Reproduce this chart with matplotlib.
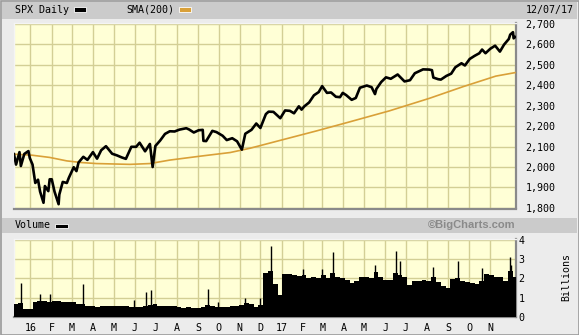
import matplotlib
matplotlib.use("Agg")
import matplotlib.pyplot as plt
import matplotlib.dates as mdates
from matplotlib.patches import Rectangle
import pandas as pd

# ---------------- data ----------------
price_dates = [
    "2015-12-08", "2015-12-11", "2015-12-16", "2015-12-18", "2015-12-23", "2015-12-29", "2015-12-31",
    "2016-01-04", "2016-01-08", "2016-01-12", "2016-01-15", "2016-01-20", "2016-01-22", "2016-01-27",
    "2016-01-29", "2016-02-01", "2016-02-05", "2016-02-11", "2016-02-12", "2016-02-17", "2016-02-23",
    "2016-02-26", "2016-03-04", "2016-03-08", "2016-03-11", "2016-03-18", "2016-03-24", "2016-04-01",
    "2016-04-07", "2016-04-13", "2016-04-20", "2016-04-29", "2016-05-06", "2016-05-13", "2016-05-19",
    "2016-05-27", "2016-06-03", "2016-06-08", "2016-06-16", "2016-06-23", "2016-06-27", "2016-07-01",
    "2016-07-08", "2016-07-15", "2016-07-22", "2016-07-29", "2016-08-05", "2016-08-15", "2016-08-19",
    "2016-08-26", "2016-09-02", "2016-09-08", "2016-09-09", "2016-09-13", "2016-09-22", "2016-09-28",
    "2016-10-07", "2016-10-13", "2016-10-21", "2016-10-28", "2016-11-04", "2016-11-09", "2016-11-18",
    "2016-11-25", "2016-12-01", "2016-12-09", "2016-12-13", "2016-12-20", "2016-12-30",
    "2017-01-06", "2017-01-13", "2017-01-19", "2017-01-26", "2017-01-30", "2017-02-03", "2017-02-10",
    "2017-02-17", "2017-02-24", "2017-03-01", "2017-03-08", "2017-03-14", "2017-03-21", "2017-03-27",
    "2017-03-31", "2017-04-05", "2017-04-13", "2017-04-19", "2017-04-25", "2017-05-05", "2017-05-12",
    "2017-05-17", "2017-05-19", "2017-05-26", "2017-06-02", "2017-06-09", "2017-06-19", "2017-06-29",
    "2017-07-07", "2017-07-14", "2017-07-26", "2017-08-04", "2017-08-08", "2017-08-10", "2017-08-17",
    "2017-08-21", "2017-08-29", "2017-09-05", "2017-09-11", "2017-09-20", "2017-09-25", "2017-10-02",
    "2017-10-09", "2017-10-16", "2017-10-20", "2017-10-25", "2017-11-01", "2017-11-08", "2017-11-15",
    "2017-11-21", "2017-11-28", "2017-11-30", "2017-12-04", "2017-12-05", "2017-12-07",
]
price_close = [
    2063, 2012, 2073, 2005, 2064, 2078, 2044,
    2012, 1922, 1938, 1880, 1825, 1907, 1882,
    1940, 1940, 1880, 1818, 1865, 1927, 1922,
    1948, 1999, 1980, 2022, 2050, 2035, 2073,
    2041, 2082, 2102, 2065, 2057, 2047, 2040,
    2099, 2099, 2119, 2077, 2113, 2000, 2103,
    2130, 2162, 2175, 2174, 2183, 2190, 2184,
    2169, 2180, 2182, 2128, 2127, 2177, 2171,
    2153, 2132, 2141, 2126, 2085, 2163, 2182,
    2213, 2191, 2259, 2271, 2270, 2239,
    2277, 2275, 2263, 2297, 2281, 2297, 2316,
    2351, 2367, 2396, 2363, 2365, 2344, 2342,
    2363, 2352, 2329, 2338, 2388, 2399, 2391,
    2357, 2382, 2416, 2439, 2432, 2453, 2419,
    2425, 2459, 2478, 2477, 2474, 2438, 2430,
    2428, 2446, 2457, 2488, 2508, 2497, 2529,
    2544, 2557, 2575, 2557, 2579, 2594, 2565,
    2599, 2627, 2648, 2660, 2630, 2636,
]

sma_dates = [
    "2015-12-08", "2016-01-03", "2016-01-29", "2016-02-23", "2016-03-15", "2016-04-06",
    "2016-05-25", "2016-06-23", "2016-07-22", "2016-09-04", "2016-10-18", "2016-11-16",
    "2017-01-04", "2017-02-21", "2017-04-10", "2017-06-07", "2017-08-04", "2017-09-22",
    "2017-11-09", "2017-12-07",
]
sma_values = [
    2063, 2058, 2047, 2030, 2022, 2017,
    2013, 2017, 2034, 2053, 2071, 2092,
    2135, 2177, 2221, 2275, 2336, 2393,
    2445, 2462,
]

# weekly volume (billions), one value per week starting Monday 2015-12-07
volume_weekly = [
    0.68, 0.72, 0.42, 0.40,
    0.80, 0.85, 0.82, 0.80,
    0.82, 0.85, 0.78, 0.80, 0.78,
    0.70, 0.68, 0.55, 0.55,
    0.52, 0.55, 0.55, 0.55,
    0.55, 0.55, 0.58, 0.52, 0.52,
    0.52, 0.55, 0.62, 0.70,
    0.55, 0.58, 0.55, 0.55,
    0.52, 0.48, 0.50, 0.47, 0.45,
    0.50, 0.60, 0.55, 0.52,
    0.52, 0.52, 0.55, 0.55, 0.60,
    0.75, 0.65, 0.50, 0.62,
    2.30, 2.40, 1.70, 1.15,
    2.25, 2.25, 2.20, 2.15, 2.20,
    2.05, 2.10, 2.05, 2.20,
    2.00, 2.30, 2.10, 2.00,
    1.90, 1.75, 1.85, 2.10,
    2.10, 2.00, 2.35, 2.10, 1.90,
    1.90, 2.30, 2.20, 2.10,
    1.65, 1.85, 1.85, 1.90, 1.85,
    2.10, 1.80, 1.60, 1.50,
    1.95, 2.05, 1.85, 1.80,
    1.75, 1.70, 1.85, 2.25, 2.20,
    2.10, 2.10, 1.85, 2.40,
    2.10,
]
spike_dates = [
    "2015-12-18", "2016-01-15", "2016-01-29", "2016-03-18", "2016-05-31", "2016-06-17",
    "2016-06-24", "2016-09-16", "2016-09-30", "2016-11-09", "2016-11-30", "2016-12-16",
    "2017-02-01", "2017-03-01", "2017-03-17", "2017-05-17", "2017-06-16", "2017-06-23",
    "2017-08-10", "2017-09-15", "2017-10-20", "2017-11-30", "2017-12-01",
]
spike_values = [
    1.77, 1.18, 1.18, 1.70, 0.87, 1.30,
    1.39, 1.44, 0.78, 1.00, 1.00, 3.68,
    2.50, 2.50, 3.38, 2.70, 3.42, 2.90,
    2.60, 2.90, 2.55, 3.10, 2.70,
]

month_starts = [
    "2016-01-01", "2016-02-01", "2016-03-01", "2016-04-01", "2016-05-01", "2016-06-01",
    "2016-07-01", "2016-08-01", "2016-09-01", "2016-10-01", "2016-11-01", "2016-12-01",
    "2017-01-01", "2017-02-01", "2017-03-01", "2017-04-01", "2017-05-01", "2017-06-01",
    "2017-07-01", "2017-08-01", "2017-09-01", "2017-10-01", "2017-11-01",
]
month_labels = ["16", "F", "M", "A", "M", "J", "J", "A", "S", "O", "N", "D",
                "17", "F", "M", "A", "M", "J", "J", "A", "S", "O", "N"]
price_ticks = [1800, 1900, 2000, 2100, 2200, 2300, 2400, 2500, 2600, 2700]
volume_ticks = [0, 1, 2, 3, 4]

# ---------------- styling ----------------
W, H = 579, 335
BG = "#ececec"
BAND = "#cbcbcb"
PLOT_BG = "#ffffd6"
GRID = "#d3cf95"
SMA_C = "#d9a038"
EDGE_DARK = "#8a8a8a"
MONO = ["DejaVu Sans Mono"]
FS = 7.2

fig = plt.figure(figsize=(W / 100, H / 100), dpi=100)
fig.patch.set_facecolor(BG)


def fx(px):
    return px / W


def fy(py):
    return 1 - py / H


def rect_px(x0, y0, x1, y1, **kw):
    fig.patches.append(Rectangle((fx(x0), fy(y1)), fx(x1) - fx(x0), fy(y0) - fy(y1),
                                 transform=fig.transFigure, figure=fig, **kw))


# outer border
rect_px(0.5, 0.5, W - 0.5, H - 0.5, facecolor="none", edgecolor="#9a9a9a", lw=1.2)
# header bands
rect_px(2, 2, W - 2, 18.5, facecolor=BAND, edgecolor="none")
rect_px(2, 218, W - 2, 233, facecolor=BAND, edgecolor="none")

xmin = pd.Timestamp("2015-12-08")
xmax = pd.Timestamp("2017-12-08")
mstarts = pd.to_datetime(month_starts)

# ---- price panel ----
ax = fig.add_axes([fx(14), fy(208.5), fx(515.7) - fx(14), fy(23) - fy(208.5)])
ax.set_facecolor(PLOT_BG)
ax.plot(pd.to_datetime(sma_dates), sma_values, color=SMA_C, lw=1.2, zorder=3)
ax.plot(pd.to_datetime(price_dates), price_close, color="black", lw=1.9, zorder=4)
ax.set_xlim(xmin, xmax)
ax.set_ylim(1797, 2705)
ax.set_xticks(mstarts)
ax.set_xticklabels([])
ax.set_yticks(price_ticks)
ax.set_yticklabels([f"{v:,}" for v in price_ticks], family=MONO, fontsize=FS)
ax.yaxis.tick_right()
ax.tick_params(axis="both", length=0)
ax.tick_params(axis="y", pad=7)
ax.grid(True, color=GRID, lw=1.0, zorder=0)
ax.set_axisbelow(True)

# ---- volume panel ----
av = fig.add_axes([fx(14), fy(317), fx(515.7) - fx(14), fy(239) - fy(317)])
av.set_facecolor(PLOT_BG)
week_starts = pd.date_range("2015-12-07", periods=len(volume_weekly), freq="7D")
av.bar(week_starts, volume_weekly, width=7, align="edge", color="black", lw=0, zorder=3)
av.vlines(pd.to_datetime(spike_dates), 0, spike_values, color="black", lw=1.0, zorder=3)
av.set_xlim(xmin, xmax)
av.set_ylim(0, 4.05)
av.set_xticks(mstarts)
av.set_xticklabels(month_labels, family=MONO, fontsize=FS)
av.set_yticks(volume_ticks)
av.set_yticklabels([str(v) for v in volume_ticks], family=MONO, fontsize=FS)
av.yaxis.tick_right()
av.tick_params(axis="both", length=0)
av.tick_params(axis="x", pad=4)
av.tick_params(axis="y", pad=2)
av.grid(True, color=GRID, lw=1.0, zorder=0)
av.set_axisbelow(True)

for a in (ax, av):
    a.spines["bottom"].set_color(EDGE_DARK)
    a.spines["right"].set_color(EDGE_DARK)
    a.spines["bottom"].set_linewidth(1.6)
    a.spines["right"].set_linewidth(1.6)
    a.spines["top"].set_color("#f4f4f4")
    a.spines["left"].set_color("#f4f4f4")
    a.spines["top"].set_linewidth(1.0)
    a.spines["left"].set_linewidth(1.0)

# ---- header texts ----
fig.text(fx(15), fy(10), "SPX Daily", family=MONO, fontsize=FS, va="center", ha="left")
rect_px(73.5, 7.5, 86, 11.5, facecolor="black", edgecolor="white", lw=0.6)
fig.text(fx(126), fy(10), "SMA(200)", family=MONO, fontsize=FS, va="center", ha="left")
rect_px(178.5, 7.5, 191, 11.5, facecolor=SMA_C, edgecolor="white", lw=0.6)
fig.text(fx(574), fy(10), "12/07/17", family=MONO, fontsize=FS, va="center", ha="right")

fig.text(fx(15), fy(225.5), "Volume", family=MONO, fontsize=FS, va="center", ha="left")
rect_px(55.5, 223.5, 68, 227.5, facecolor="black", edgecolor="white", lw=0.6)
fig.text(fx(515.7), fy(225.5), "\u00a9BigCharts.com", family=["Liberation Sans"], fontsize=8,
         fontweight="bold", color="#8a8a8a", va="center", ha="right")

fig.text(fx(566), fy(277), "Billions", family=MONO, fontsize=FS, va="center", ha="center",
         rotation=90)

fig.savefig("out.png", dpi=100, facecolor=BG)
